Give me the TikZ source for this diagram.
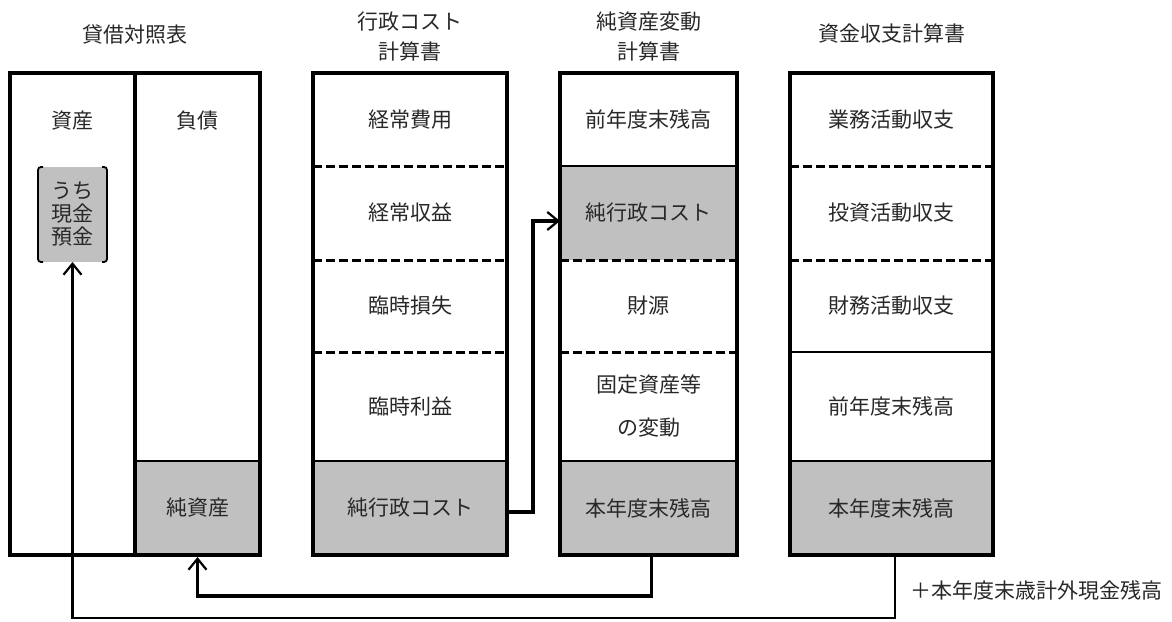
\documentclass[tikz,border=0pt]{standalone}
\usepackage{fontspec}
\setmainfont{Noto Sans CJK JP}
\usetikzlibrary{arrows.meta}
\definecolor{cellgray}{RGB}{192,192,192}
\definecolor{ink}{RGB}{40,40,40}
\tikzset{
  sz/.style 2 args={minimum width=#1pt, minimum height=#2pt},
  txt/.style={font=\fontsize{21}{24}\selectfont, text=ink},
  cell/.style={txt, inner sep=0pt, outer sep=0pt, anchor=center},
  shaded/.style={cell, fill=cellgray},
  frame/.style={line width=3.5pt, line join=miter},
  solidsep/.style={line width=2.5pt},
  dashsep/.style={line width=3pt, dash pattern=on 9pt off 4pt},
  flow/.style={line width=3.2pt, line join=miter, -{Straight Barb[length=11pt,width=18pt,line width=2.2pt]}},
  bracket/.style={line width=1.8pt, rounded corners=3pt},
}
\begin{document}
\begin{tikzpicture}[x=1pt,y=-1pt]
\useasboundingbox (0,0) rectangle (1172,621);

% titles
\node[txt] (t1) at (135,35) {貸借対照表};
\node[txt, align=center, font=\fontsize{21}{30}\selectfont] (t2) at (410,37) {行政コスト\\計算書};
\node[txt, align=center, font=\fontsize{21}{30}\selectfont] (t3) at (648.5,37) {純資産変動\\計算書};
\node[txt] (t4) at (891.5,33) {資金収支計算書};

% balance sheet
\node[cell, sz={125}{482}] (asset) at (72.5,314) {};
\node[txt] (assett) at (72.5,121) {資産};
\node[cell, sz={125}{388}] (liab) at (197.5,267) {};
\node[txt] (liabt) at (197.5,121) {負債};
\node[shaded, sz={125}{94}] (bsna) at (197.5,508) {純資産};
\node[shaded, sz={69}{95}, align=center, font=\fontsize{21}{23}\selectfont] (cash) at (72.5,214.5) {うち\\現金\\預金};
\draw[bracket] ([xshift=5pt]cash.north west) -- (cash.north west) -- (cash.south west) -- ([xshift=5pt]cash.south west);
\draw[bracket] ([xshift=-5pt]cash.north east) -- (cash.north east) -- (cash.south east) -- ([xshift=-5pt]cash.south east);
\draw[solidsep] (bsna.north west) -- (bsna.north east);
\draw[frame] (asset.north east) -- (asset.south east);
\draw[frame] (asset.north west) rectangle (bsna.south east);

% cost statement
\node[cell, sz={194}{93}] (gc1) at (410,119.5) {経常費用};
\node[cell, sz={194}{94}] (gc2) at (410,213) {経常収益};
\node[cell, sz={194}{92}] (gc3) at (410,306) {臨時損失};
\node[cell, sz={194}{109}] (gc4) at (410,406.5) {臨時利益};
\node[shaded, sz={194}{94}] (gc5) at (410,508) {純行政コスト};
\draw[dashsep] (gc1.south west) -- (gc1.south east);
\draw[dashsep] (gc2.south west) -- (gc2.south east);
\draw[dashsep] (gc3.south west) -- (gc3.south east);
\draw[solidsep] (gc4.south west) -- (gc4.south east);
\draw[frame] (gc1.north west) rectangle (gc5.south east);

% net assets statement
\node[cell, sz={177}{93}] (na1) at (648.5,119.5) {前年度末残高};
\node[shaded, sz={177}{94}] (na2) at (648.5,213) {純行政コスト};
\node[cell, sz={177}{92}] (na3) at (648.5,306) {財源};
\node[cell, sz={177}{109}, align=center, font=\fontsize{21}{43}\selectfont] (na4) at (648.5,406.5) {固定資産等\\の変動};
\node[shaded, sz={177}{94}] (na5) at (648.5,508) {本年度末残高};
\draw[solidsep] (na1.south west) -- (na1.south east);
\draw[dashsep] (na2.south west) -- (na2.south east);
\draw[dashsep] (na3.south west) -- (na3.south east);
\draw[solidsep] (na4.south west) -- (na4.south east);
\draw[frame] (na1.north west) rectangle (na5.south east);

% cash flow statement
\node[cell, sz={203}{93}] (cf1) at (891.5,119.5) {業務活動収支};
\node[cell, sz={203}{94}] (cf2) at (891.5,213) {投資活動収支};
\node[cell, sz={203}{92}] (cf3) at (891.5,306) {財務活動収支};
\node[cell, sz={203}{109}] (cf4) at (891.5,406.5) {前年度末残高};
\node[shaded, sz={203}{94}] (cf5) at (891.5,508) {本年度末残高};
\draw[dashsep] (cf1.south west) -- (cf1.south east);
\draw[dashsep] (cf2.south west) -- (cf2.south east);
\draw[solidsep] (cf3.south west) -- (cf3.south east);
\draw[solidsep] (cf4.south west) -- (cf4.south east);
\draw[frame] (cf1.north west) rectangle (cf5.south east);

% connectors
\draw[flow] ([yshift=-4pt]gc5.east) -- ++(26,0) |- ([yshift=-8pt]na2.west);
\draw[flow] ([xshift=3pt]na5.south) -- ++(0,41) -| ([yshift=-2pt]bsna.south);
\draw[flow, line width=2.5pt] ([xshift=3.5pt]cf5.south) -- ++(0,63) -| (cash.south);

\node[txt] (extra) at (1036,590) {＋本年度末歳計外現金残高};
\end{tikzpicture}
\end{document}
